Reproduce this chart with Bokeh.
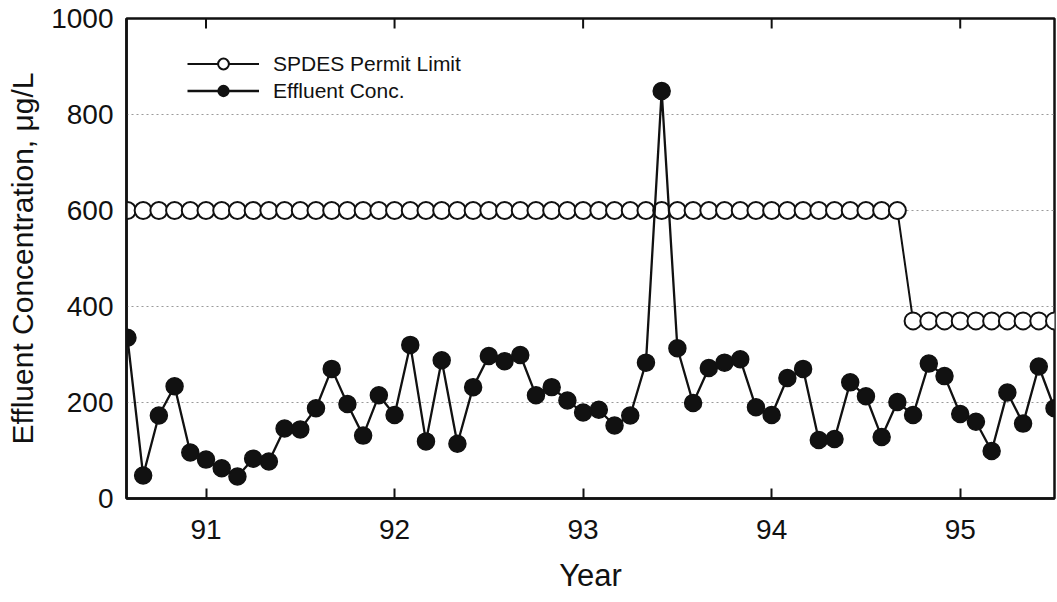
import pandas as pd
from bokeh.plotting import figure
from bokeh.models import (Range1d, FixedTicker, Legend, LegendItem, ColumnDataSource)
from bokeh.embed import file_html
from bokeh.resources import INLINE

# ---- data ----
start_month = "1990-08"
n_months = 60
effluent = [335, 48, 173, 234, 96, 81, 63, 46, 83, 77,
            146, 144, 188, 270, 197, 131, 215, 174, 320, 119,
            288, 114, 232, 297, 286, 299, 215, 232, 204, 179,
            185, 152, 173, 283, 849, 313, 199, 272, 283, 290,
            190, 174, 251, 270, 122, 124, 242, 213, 128, 201,
            174, 281, 255, 176, 160, 99, 221, 156, 275, 188]
permit = [600, 600, 600, 600, 600, 600, 600, 600, 600, 600,
          600, 600, 600, 600, 600, 600, 600, 600, 600, 600,
          600, 600, 600, 600, 600, 600, 600, 600, 600, 600,
          600, 600, 600, 600, 600, 600, 600, 600, 600, 600,
          600, 600, 600, 600, 600, 600, 600, 600, 600, 600,
          370, 370, 370, 370, 370, 370, 370, 370, 370, 370]
year_ticks = [91, 92, 93, 94, 95]
conc_ticks = [0, 200, 400, 600, 800, 1000]
grid_levels = [200, 400, 600, 800]
y_min, y_max = 0, 1000

months = pd.date_range(start_month, periods=n_months, freq="MS")
x_year = [(d.year - 1900) + (d.month - 1) / 12 for d in months]

src = ColumnDataSource(dict(x=x_year, eff=effluent, permit=permit))

FONT = "Liberation Sans"
INK = "#111111"
FRAME_H = 480          # px of the plot frame
TICK_LEN_PX = 10

p = figure(width=1057, height=602, output_backend="svg", toolbar_location=None,
           x_range=Range1d(x_year[0] - 0.005, x_year[-1]), y_range=Range1d(y_min, y_max),
           min_border_left=126, min_border_right=3, min_border_top=18,
           min_border_bottom=104)
p.background_fill_color = "white"
p.border_fill_color = "white"
p.outline_line_color = INK
p.outline_line_width = 2.5

# bottom axis
xa = p.xaxis[0]
xa.ticker = FixedTicker(ticks=year_ticks, minor_ticks=[])
xa.major_tick_in = TICK_LEN_PX
xa.major_tick_out = 0
xa.major_tick_line_width = 2
xa.major_tick_line_color = INK
xa.axis_line_width = 2.5
xa.axis_line_color = INK
xa.major_label_text_font = FONT
xa.major_label_text_font_size = "28px"
xa.major_label_text_color = INK
xa.major_label_standoff = 21
xa.axis_label = "Year"
xa.axis_label_text_font = FONT
xa.axis_label_text_font_size = "31px"
xa.axis_label_text_font_style = "normal"
xa.axis_label_text_color = INK
xa.axis_label_standoff = 16

# left axis
ya = p.yaxis[0]
ya.ticker = FixedTicker(ticks=conc_ticks, minor_ticks=[])
ya.major_tick_in = 0
ya.major_tick_out = 0
ya.axis_line_width = 2.5
ya.axis_line_color = INK
ya.major_label_text_font = FONT
ya.major_label_text_font_size = "28px"
ya.major_label_text_color = INK
ya.major_label_standoff = 13
ya.axis_label = "Effluent Concentration, μg/L"
ya.axis_label_text_font = FONT
ya.axis_label_text_font_size = "30px"
ya.axis_label_text_font_style = "normal"
ya.axis_label_text_color = INK
ya.axis_label_standoff = 9

# inward ticks along the top edge
tick_len = TICK_LEN_PX * (y_max - y_min) / FRAME_H
p.segment(x0=year_ticks, x1=year_ticks, y0=[y_max] * len(year_ticks),
          y1=[y_max - tick_len] * len(year_ticks), line_color=INK, line_width=2)

p.xgrid.visible = False
p.ygrid.ticker = FixedTicker(ticks=grid_levels, minor_ticks=[])
p.ygrid.grid_line_color = "#9a9a9a"
p.ygrid.grid_line_dash = "2 3"
p.ygrid.grid_line_width = 1

# series
pl = p.line("x", "permit", source=src, line_color=INK, line_width=2)
ps = p.scatter("x", "permit", source=src, size=17, fill_color="white",
               line_color=INK, line_width=2)
el = p.line("x", "eff", source=src, line_color=INK, line_width=2.3)
es = p.scatter("x", "eff", source=src, size=17, fill_color=INK,
               line_color=INK, line_width=1.5)

legend = Legend(items=[LegendItem(label="SPDES Permit Limit", renderers=[pl, ps]),
                       LegendItem(label="Effluent Conc.", renderers=[el, es])],
                location=(61, 394), orientation="vertical")
legend.glyph_width = 72
legend.glyph_height = 27
legend.label_height = 27
legend.spacing = 0
legend.padding = 0
legend.margin = 0
legend.label_standoff = 14
legend.label_text_font = FONT
legend.label_text_font_size = "21px"
legend.label_text_color = INK
legend.border_line_color = None
legend.background_fill_alpha = 0
p.add_layout(legend, "center")

open("out.html", "w").write(file_html(p, INLINE))
